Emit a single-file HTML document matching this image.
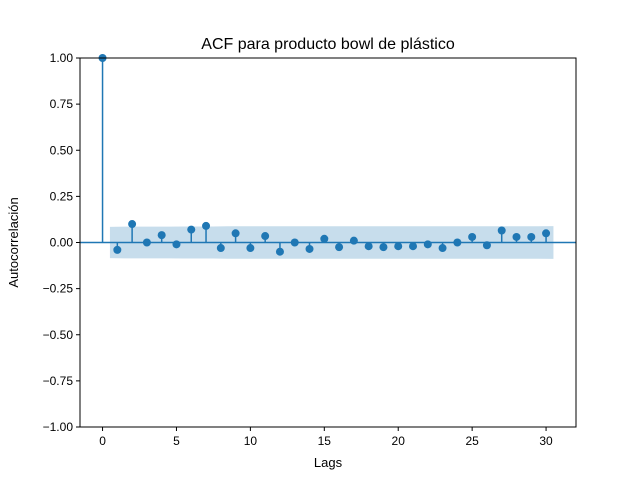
<!DOCTYPE html>
<html><head><meta charset="utf-8"><style>
body{margin:0;background:#fff;}
svg text{font-family:"Liberation Sans","DejaVu Sans",sans-serif;}
</style></head><body>
<svg id="chart" width="640" height="480" xmlns="http://www.w3.org/2000/svg">
<rect width="640" height="480" fill="#fff"/>
<text x="328" y="49" font-size="16" text-anchor="middle">ACF para producto bowl de plástico</text>
<g id="plot"></g>
<text x="328" y="467" font-size="13" text-anchor="middle">Lags</text>
<text transform="translate(18,242.5) rotate(-90)" font-size="13" text-anchor="middle">Autocorrelación</text>
</svg>
<script>
const lags=[0,1,2,3,4,5,6,7,8,9,10,11,12,13,14,15,16,17,18,19,20,21,22,23,24,25,26,27,28,29,30];
const acfValues=[1,-0.04,0.10,0.00,0.04,-0.01,0.07,0.09,-0.03,0.05,-0.03,0.035,-0.05,0.00,-0.035,0.02,-0.025,0.01,-0.02,-0.025,-0.02,-0.02,-0.01,-0.03,0.00,0.03,-0.015,0.065,0.03,0.03,0.05];
const confBand=[0.085,0.086,0.086,0.086,0.086,0.087,0.087,0.087,0.088,0.088,0.088,0.088,0.088,0.088,0.088,0.088,0.088,0.088,0.088,0.088,0.088,0.088,0.088,0.088,0.088,0.088,0.088,0.088,0.088,0.088,0.089];
const xTicks=[0,5,10,15,20,25,30];
const yTicks=[1.00,0.75,0.50,0.25,0.00,-0.25,-0.50,-0.75,-1.00];
const L=80,R=576,T=58,B=427,xmin=-1.525,xmax=32.025,ymin=-1,ymax=1;
const sx=v=>L+(v-xmin)/(xmax-xmin)*(R-L);
const sy=v=>B-(v-ymin)/(ymax-ymin)*(B-T);
const g=document.getElementById('plot');
const NS='http://www.w3.org/2000/svg';
function mk(t,a){const e=document.createElementNS(NS,t);for(const k in a)e.setAttribute(k,a[k]);g.appendChild(e);return e;}
let bandTop='',bandBot='';
confBand.forEach((c,i)=>{const x=sx(i-0.5+(i===0?1:0)*0);bandTop+=(i?'L':'M')+sx(i===0?0.5:i-0.5+ (i>0?0:0))+','+sy(c);});
bandTop='';
confBand.forEach((c,i)=>{const x=sx(0.5+i*(30/(confBand.length-1)));bandTop+=(i?'L':'M')+x+','+sy(c);});
for(let i=confBand.length-1;i>=0;i--){bandBot+='L'+sx(0.5+i*(30/(confBand.length-1)))+','+sy(-confBand[i]);}
const band=mk('path',{d:bandTop+bandBot+'Z',fill:'#1f77b4','fill-opacity':0.25});


const zl=mk('line',{x1:L,x2:R,y1:sy(0),y2:sy(0),stroke:'#1f77b4','stroke-width':1.5});


lags.forEach((l,i)=>{
 const s=mk('line',{x1:sx(l),x2:sx(l),y1:sy(0),y2:sy(acfValues[i]),stroke:'#1f77b4','stroke-width':1.5});
 
 
 const c=mk('circle',{cx:sx(l),cy:sy(acfValues[i]),r:4,fill:'#1f77b4'});
 
 
});
const fr=mk('rect',{x:L,y:T,width:R-L,height:B-T,fill:'none',stroke:'#000','stroke-width':1});


xTicks.forEach(v=>{
 const t=mk('line',{x1:sx(v),x2:sx(v),y1:B,y2:B+4,stroke:'#000'});
 
 
 const tx=mk('text',{x:sx(v),y:B+18,'font-size':12,'text-anchor':'middle'});
 tx.textContent=v;
 
 
});
yTicks.forEach(v=>{
 const t=mk('line',{x1:L-4,x2:L,y1:sy(v),y2:sy(v),stroke:'#000'});
 
 
 const tx=mk('text',{x:L-7,y:sy(v)+4,'font-size':12,'text-anchor':'end'});
 tx.textContent=v.toFixed(2).replace('-','−');
 
 
});
</script>
</body></html>
